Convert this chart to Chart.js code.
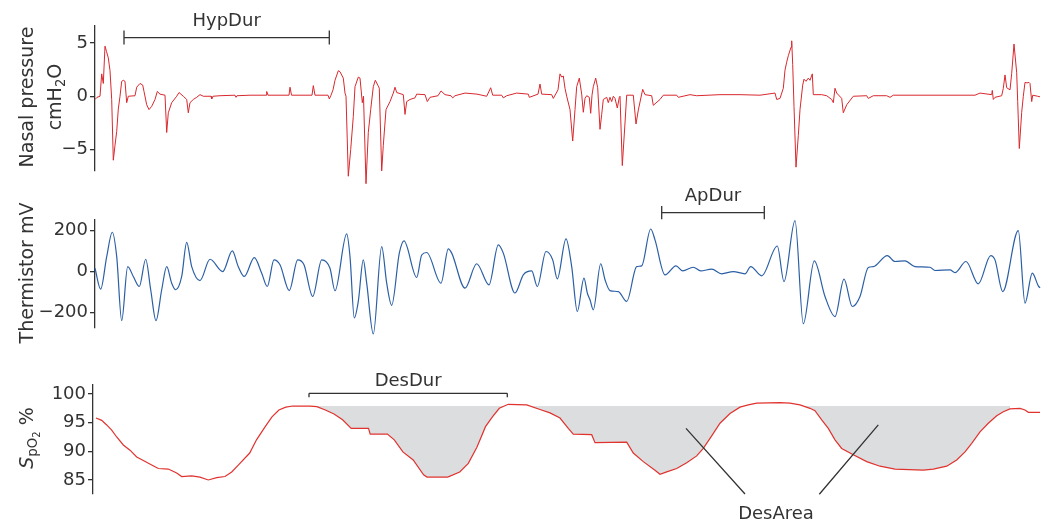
<!DOCTYPE html>
<html>
<head>
<meta charset="utf-8">
<title>Nasal pressure, thermistor and SpO2</title>
<script src="https://cdn.jsdelivr.net/npm/chart.js@4.4.1/dist/chart.umd.min.js"></script>
<style>
  body { margin: 0; background: #fff; }
  #wrap { position: relative; width: 1043px; height: 523px; font-family: "DejaVu Sans", sans-serif; color: #333; }
  canvas { position: absolute; left: 0; top: 0; }
  .ytitle { position: absolute; white-space: nowrap; font-size: 19px; line-height: 28px; text-align: center;
            transform: translate(-50%, -50%) rotate(-90deg); }
  .ytitle sub { font-size: 0.7em; line-height: 0; vertical-align: -0.3em; }
  .ytitle sub sub { font-size: 0.75em; vertical-align: -0.35em; }
</style>
</head>
<body>
<div id="wrap">
  <canvas id="pressChart" width="1043" height="523"></canvas>
  <canvas id="thermChart" width="1043" height="523"></canvas>
  <canvas id="spo2Chart" width="1043" height="523"></canvas>
  <div class="ytitle" style="left:40px; top:97px;">Nasal pressure<br>cmH<sub>2</sub>O</div>
  <div class="ytitle" style="left:26px; top:273px;">Thermistor mV</div>
  <div class="ytitle" style="left:26px; top:438px;"><i>S</i><sub>pO<sub>2</sub></sub> %</div>
</div>
<script>
// time axis is in samples, shared by all three traces

// nasal pressure, cmH2O
const pressT = [0, 2, 5, 6.7, 8.3, 10, 11.5, 13.3, 15, 16.7, 18.3, 20, 21.7, 23.3, 25, 26.7, 28.3, 30, 31.7, 33.3,
  40, 41.7, 45, 47.7, 49, 51.7, 54, 56.7, 60, 62.3, 65, 70, 71.7, 73.3, 76.7, 81.7, 84, 88.3, 91.7, 93.3,
  95, 98.3, 101.7, 105, 108.3, 116, 116.7, 118, 125, 140, 141, 142, 155, 171, 171.7, 173, 194, 195, 196.5, 217,
  218.3, 220, 233, 234.3, 236, 238, 240, 243.3, 245, 248.3, 250, 251, 253.3, 255.7, 258.3, 260, 263.3, 265, 267.3, 268.5,
  271, 273.3, 275.7, 278.3, 280.3, 283, 284.3, 286.7, 288.3, 291, 295, 298.3, 300, 301.7, 308.3, 310, 311.7, 315,
  320, 321.7, 330, 332.3, 335, 343, 346, 350, 356, 357.7, 360, 370, 382, 391.7, 395.7, 397.7, 406.7, 408.3, 411.7, 421.7,
  433.3, 434.3, 443, 445, 446.7, 456.7, 458.3, 463, 465, 466.7, 468.3, 470, 471.7, 475, 477.7, 480, 481.7, 484.3, 486.7, 488.3,
  490, 491.7, 494.3, 495.7, 497, 498.3, 500.7, 502.7, 505, 506.7, 508.3, 511.7, 513.3, 515, 516.7, 518.3, 520, 522.3, 524.3, 525,
  527.3, 530, 531.7, 538.3, 541, 543.3, 547.7, 550, 556.7, 558.3, 565, 568.3, 581.7, 583.3, 595, 601.7, 625, 645, 665, 680,
  681.7, 685, 688.3, 690, 691.7, 693.3, 696, 696.7, 697.7, 699, 701, 703.3, 705, 707.7, 709, 711, 713.3, 715, 717.3, 718.3,
  726.7, 731.7, 736.7, 738.3, 740, 741.7, 746.7, 748.3, 751.7, 758.3, 771.7, 773.3, 778.3, 791.7, 795, 798.3, 865, 880, 885, 896.7,
  897.3, 898.3, 900, 906.7, 908.3, 910, 911.7, 915, 916.7, 919, 921.7, 922.7, 924.3, 926.7, 928.3, 930, 932, 934, 935, 936.7,
  937.7, 942.7, 945];
const pressV = [-0.3, -0.1, 0, 2.1, 1.2, 4.7, 4.2, 3.6, 2.4, -0.3, -6.0, -4.6, -3.3, -1.2, 0, 1.4, 1.5, 1.4, -0.6, 0,
  0.05, 0.85, 1.2, 1.05, 0.45, -0.8, -1.25, -0.95, -0.3, 0.45, 0.2, 0.1, -3.4, -1.55, -0.6, 0, 0.35, 0, -0.3, -1.55,
  -0.6, -0.3, -0.1, 0.15, 0, 0, -0.25, 0, 0.05, 0.1, -0.1, 0.05, 0.1, 0.1, 0.45, 0.1, 0.1, 0.85, 0.1, 0.1,
  1.0, 0.1, 0.1, -0.25, 0.1, 0.6, 1.5, 2.4, 2.3, 1.7, 0.3, 0, -7.5, -5, -1.9, 0.9, 1.8, 1.7, -0.6, 0,
  -8.2, -3.4, -1.25, 0.9, 1.5, 1.0, 0.75, -7.0, -4.6, -1.25, -0.5, 0.3, 0.85, 0.35, 0.15, -1.7, -0.5, -0.3,
  -0.15, 0.2, 0.15, -0.5, -0.1, 0.05, 0.5, 0.15, 0.05, -0.15, 0.05, 0.3, 0.2, 0, 0.8, 0.1, 0.1, -0.15, 0.05, 0.3,
  0.2, -0.1, 0.2, 1.15, 0.2, 0.15, -0.2, 0.6, 2.1, 1.8, 1.9, 0.75, 0, -1.25, -4.2, -1.25, 0.9, 1.7, 0.2, -1.5,
  -0.2, 0.05, -0.1, -1.6, 0.1, 0.9, 1.7, 0.8, -3.1, -1.7, -0.3, -0.1, -0.6, -0.1, -0.5, 0, -0.2, -1.1, -0.1, 0,
  -6.5, -2.5, 0.1, 0.1, -2.6, -1.3, 0.65, 0.15, 0.05, -0.85, -0.3, 0.1, 0.1, -0.1, 0.15, 0.05, 0.15, 0.15, 0.1, 0.3,
  -0.3, -0.2, 0.75, 2.45, 3.2, 3.8, 4.6, 5.2, 3.0, -0.95, -6.65, -3.7, -1.25, 1.05, 1.6, 1.4, 1.7, 1.5, 2.1, 0.15,
  0.15, 0.05, -0.3, -0.6, 0.75, 0.3, -0.2, -1.55, -0.8, 0, 0.05, -0.2, 0.05, 0.05, -0.1, 0.1, 0.1, 0.1, 0.3, 0.15,
  0.55, -0.3, -0.1, 0.05, 0.75, 2.0, 0.8, 0.6, 2.15, 4.9, 2.2, -0.5, -4.9, -1.5, 0, 1.3, 1.25, 1.3, 1.2, -0.5,
  0.1, 0, -0.05];
const pressTicks = [-5, 0, 5];

// thermistor, mV
const thermT = [0, 5.7, 11.7, 17.3, 21.7, 26.7, 32.7, 38.3, 44.3, 50.7, 55.7, 61, 66.7, 71.7, 76.7, 80.7, 86.7, 91.7, 96.7, 105,
  115, 127.7, 137.3, 143.3, 149.3, 159.3, 166.7, 172.3, 179, 185, 194.3, 202.7, 209, 217.7, 226.7, 235, 240, 251.7, 255, 259.3,
  263.3, 268.3, 271.7, 278.3, 286.7, 291.7, 296.7, 304.3, 309, 321.7, 326.7, 331.7, 346, 353.3, 356.7, 370, 381.7, 394, 403.3, 408.3,
  420, 428.3, 436.7, 442.3, 451, 457.7, 462.3, 471, 476.7, 482.3, 489, 492.3, 495, 498.3, 505.7, 510, 515, 523.3, 531.7, 541.7,
  546.7, 555.7, 560, 570, 581, 587.7, 598.3, 605.7, 616.7, 626.7, 638.3, 650, 655.7, 666.7, 682.3, 689, 700, 708.3, 719.3, 730,
  740, 749, 757.3, 765, 773.3, 778.3, 792.3, 800, 810, 820, 835, 840, 855, 860, 871, 883.3, 895.7, 900, 907.7, 923.3,
  930, 937.3, 943.3, 945];
const thermV = [16, -86, 73, 192, 73, -240, 24, -24, -73, 60, -89, -240, -89, 24, -57, -89, -24, 143, 24, -44,
  60, 0, 101, 24, -24, 68, -8, -73, 57, 33, -93, 57, 33, -122, 57, 16, -94, 184, 73, -227,
  -146, 57, -57, -305, 122, -57, -165, 90, 150, -29, 81, 93, -57, 111, 90, -81, 38, -65, 130, 90,
  -105, -16, 3, -73, 98, 57, -36, 160, 24, -195, -32, -105, -138, -187, 38, -40, -93, -98, -146, 24,
  28, 208, 155, -16, 28, 3, 21, 3, 12, -11, 0, -11, 24, -21, 125, -49, 249, -255, 52, -122,
  -220, -37, -171, -122, 20, 24, 78, 49, 52, 24, 21, 5, 8, -5, 49, -60, 78, 57, -98, 200,
  -154, -8, -70, -80];
const thermTicks = [-200, 0, 200];

// oxygen saturation, %
const spo2T = [1, 6.7, 11.7, 16.7, 21.7, 28.3, 35, 41.7, 48.3, 56.7, 63.3, 73.3, 81.7, 86.7, 96.7, 105, 113.3, 121.7, 130, 136.7,
  143.3, 154.7, 161.5, 170.2, 177, 183.9, 190.8, 197.7, 214.9, 221.8, 230.4, 239, 247.6, 256.2, 273.5, 275.2, 292.4, 299.3, 307.9, 318.2,
  328.6, 332, 352.7, 364.7, 373.3, 381.9, 390.5, 397.4, 404.3, 413.3, 431.7, 445, 455, 465, 473.3, 478.3, 496.7, 500, 531.7, 538.3,
  548.3, 560, 565, 571.7, 581.7, 591.7, 601.7, 608.3, 616.7, 625, 635, 645, 653.3, 661.7, 685, 695, 705, 715, 720, 726.7,
  733.3, 740, 746.7, 758.3, 771.7, 785, 800, 828.3, 838.3, 851.7, 861.7, 870, 876.7, 885, 893.3, 901.7, 908.3, 915, 925, 930,
  933.3, 945];
const spo2V = [95.8, 95.4, 94.6, 93.7, 92.5, 91.1, 90.2, 89.0, 88.4, 87.6, 87.0, 86.9, 86.2, 85.6, 85.7, 85.5, 85.0, 85.4, 85.6, 86.4,
  87.6, 89.7, 92.0, 94.3, 96.0, 97.2, 97.7, 97.9, 97.9, 97.8, 97.2, 96.5, 95.5, 94.0, 94.0, 93.0, 93.0, 92.0, 89.9, 88.5,
  85.9, 85.5, 85.5, 86.4, 87.9, 90.7, 94.3, 96.0, 97.5, 98.2, 98.1, 97.3, 96.7, 95.8, 94.0, 93.0, 92.9, 91.5, 91.6, 89.7,
  88.2, 86.7, 86.0, 86.4, 87.0, 88.0, 89.2, 90.5, 92.7, 94.9, 96.6, 97.7, 98.1, 98.4, 98.5, 98.4, 98.1, 97.5, 97.1, 95.5,
  94.0, 92.0, 90.5, 89.4, 88.2, 87.4, 86.9, 86.7, 86.9, 87.4, 88.5, 89.9, 91.4, 93.4, 94.9, 96.2, 96.9, 97.4, 97.5, 97.2,
  96.8, 96.8];
const spo2Ticks = [85, 90, 95, 100];

// desaturation area: below the baseline, between these times
const desatBase = 97.9;
const desatSpan = [214, 918];

// event durations [start, end]
const hypDur = [29, 234.3];
const apDur = [566.7, 669.3];
const desDur = [214, 412.3];

const ink = '#333';

function pts(ts, vs) {
  return ts.map((t, i) => ({ x: t, y: vs[i] }));
}

function yAxis(min, max, ticks, width) {
  return {
    min: min,
    max: max,
    afterFit: s => { s.width = width; },
    afterBuildTicks: s => { s.ticks = ticks.map(v => ({ value: v })); },
    border: { display: true, color: ink, width: 1.3 },
    grid: { display: true, drawOnChartArea: false, drawTicks: true, tickLength: 5, color: ink, lineWidth: 1.3 },
    ticks: {
      padding: 2,
      color: ink,
      font: { family: 'DejaVu Sans', size: 18 },
      callback: v => String(v).replace('-', '\u2212')
    }
  };
}

// brackets and pointer lines, placed in data coordinates
function notes(brackets, pointers) {
  return {
    id: 'notes',
    afterDatasetsDraw(chart) {
      const ctx = chart.ctx, xs = chart.scales.x, ys = chart.scales.y;
      ctx.save();
      ctx.strokeStyle = ink;
      ctx.fillStyle = ink;
      ctx.lineWidth = 1.3;
      ctx.font = '18px "DejaVu Sans"';
      ctx.textAlign = 'center';
      brackets.forEach(b => {
        const x0 = xs.getPixelForValue(b.span[0]);
        const x1 = xs.getPixelForValue(b.span[1]);
        const y = ys.getPixelForValue(b.at);
        ctx.beginPath();
        ctx.moveTo(x0, y); ctx.lineTo(x1, y);
        ctx.moveTo(x0, y - b.up); ctx.lineTo(x0, y + b.down);
        ctx.moveTo(x1, y - b.up); ctx.lineTo(x1, y + b.down);
        ctx.stroke();
        ctx.fillText(b.text, (x0 + x1) / 2, y - b.gap);
      });
      pointers.forEach(p => {
        ctx.beginPath();
        p.lines.forEach(l => {
          ctx.moveTo(xs.getPixelForValue(l[0]), ys.getPixelForValue(l[1]));
          ctx.lineTo(xs.getPixelForValue(l[2]), ys.getPixelForValue(l[3]));
        });
        ctx.stroke();
        ctx.fillText(p.text, xs.getPixelForValue(p.x), ys.getPixelForValue(p.y));
      });
      ctx.restore();
    }
  };
}

function panel(id, datasets, y, xMin, pad, plugin) {
  return new Chart(document.getElementById(id), {
    type: 'line',
    data: { datasets: datasets },
    options: {
      responsive: false,
      animation: false,
      events: [],
      layout: { padding: { top: pad[0], bottom: pad[1], left: 0, right: 3 } },
      scales: {
        x: { type: 'linear', min: xMin, max: 945, display: false },
        y: y
      },
      plugins: { legend: { display: false }, tooltip: { enabled: false } }
    },
    plugins: [plugin]
  });
}

panel('pressChart', [{
  data: pts(pressT, pressV),
  borderColor: '#d8282d',
  borderWidth: 1,
  pointRadius: 0,
  tension: 0,
  clip: false
}], yAxis(-7.01, 6.59, pressTicks, 95), 0, [26, 352],
  notes([{ span: hypDur, at: 5.5, up: 7, down: 7, gap: 11.7, text: 'HypDur' }], []));

panel('thermChart', [{
  data: pts(thermT, thermV),
  borderColor: '#2a5fa5',
  borderWidth: 1.2,
  pointRadius: 0,
  cubicInterpolationMode: 'monotone',
  clip: false
}], yAxis(-276, 252, thermTicks, 95), 0, [220, 195],
  notes([{ span: apDur, at: 288, up: 6.7, down: 6.7, gap: 12, text: 'ApDur' }], []));

const spo2Pts = pts(spo2T, spo2V);
panel('spo2Chart', [{
  data: spo2Pts,
  borderColor: '#e0332f',
  borderWidth: 1.2,
  pointRadius: 0,
  tension: 0,
  order: 1
}, {
  data: spo2Pts.filter(p => p.x >= desatSpan[0] && p.x <= desatSpan[1]),
  borderColor: 'rgba(0,0,0,0)',
  borderWidth: 0,
  pointRadius: 0,
  tension: 0,
  fill: { target: { value: desatBase }, above: 'rgba(0,0,0,0)', below: '#dcddde' },
  order: 2
}], yAxis(82.55, 101.57, spo2Ticks, 93), -2, [385, 29],
  notes([{ span: desDur, at: 100.12, up: 0, down: 4, gap: 7.3, text: 'DesDur' }],
        [{ text: 'DesArea', x: 681, y: 78.2, lines: [[591, 94.0, 650, 82.55], [783.3, 94.6, 724.3, 82.5]] }]));
</script>
</body>
</html>
